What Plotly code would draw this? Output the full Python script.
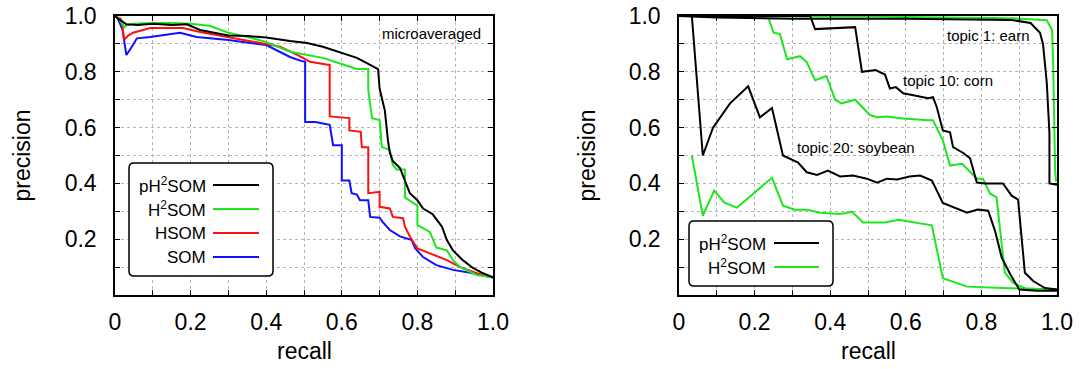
import plotly.graph_objects as go

# ---- microaveraged precision/recall curves (left panel) ----
ph2som_recall = [0.0, 0.008, 0.02, 0.03, 0.06, 0.1, 0.15, 0.19, 0.225, 0.26, 0.30, 0.35, 0.40, 0.463,
                 0.508, 0.55, 0.595, 0.64, 0.675, 0.696, 0.700, 0.706, 0.714, 0.722, 0.727, 0.735,
                 0.754, 0.767, 0.78, 0.80, 0.815, 0.84, 0.865, 0.878, 0.894, 0.92, 0.947, 0.97, 1.0]
ph2som_prec = [1.0, 0.99, 0.98, 0.97, 0.968, 0.972, 0.968, 0.97, 0.95, 0.94, 0.93, 0.928, 0.923, 0.91,
               0.903, 0.89, 0.87, 0.85, 0.825, 0.81, 0.74, 0.71, 0.66, 0.555, 0.51, 0.48,
               0.455, 0.41, 0.365, 0.34, 0.31, 0.29, 0.245, 0.197, 0.16, 0.125, 0.097, 0.08, 0.063]

h2som_recall = [0.0, 0.01, 0.025, 0.03, 0.05, 0.1, 0.15, 0.2, 0.25, 0.30, 0.35, 0.40, 0.463, 0.49,
                0.55, 0.595, 0.64, 0.67, 0.67, 0.68, 0.70, 0.706, 0.727, 0.735, 0.745, 0.767, 0.767,
                0.80, 0.80, 0.833, 0.85, 0.878, 0.894, 0.913, 0.957, 1.0]
h2som_prec = [1.0, 0.99, 0.96, 0.967, 0.972, 0.975, 0.975, 0.972, 0.965, 0.94, 0.925, 0.907, 0.872, 0.865,
              0.85, 0.83, 0.81, 0.81, 0.735, 0.634, 0.627, 0.53, 0.52, 0.466, 0.45, 0.45, 0.35,
              0.32, 0.25, 0.226, 0.17, 0.16, 0.125, 0.10, 0.072, 0.063]

hsom_recall = [0.0, 0.015, 0.02, 0.024, 0.035, 0.048, 0.093, 0.18, 0.225, 0.30, 0.40, 0.437, 0.49,
               0.516, 0.563, 0.568, 0.568, 0.62, 0.62, 0.65, 0.653, 0.67, 0.67, 0.70, 0.70, 0.727,
               0.735, 0.762, 0.767, 0.78, 0.80, 0.833, 0.878, 0.913, 0.957, 1.0]
hsom_prec = [1.0, 0.99, 0.96, 0.915, 0.93, 0.94, 0.957, 0.957, 0.943, 0.925, 0.90, 0.89, 0.855,
             0.836, 0.825, 0.825, 0.64, 0.634, 0.59, 0.585, 0.53, 0.53, 0.365, 0.37, 0.316, 0.31,
             0.28, 0.275, 0.245, 0.21, 0.167, 0.15, 0.125, 0.10, 0.078, 0.063]

som_recall = [0.0, 0.008, 0.02, 0.03, 0.04, 0.058, 0.093, 0.172, 0.216, 0.30, 0.40, 0.463, 0.49,
              0.503, 0.503, 0.53, 0.568, 0.57, 0.577, 0.60, 0.60, 0.62, 0.626, 0.64, 0.648, 0.67,
              0.675, 0.70, 0.708, 0.727, 0.754, 0.785, 0.794, 0.815, 0.85, 0.894, 0.94, 1.0]
som_prec = [1.0, 0.99, 0.95, 0.86, 0.88, 0.92, 0.925, 0.94, 0.925, 0.914, 0.896, 0.853, 0.84,
            0.836, 0.62, 0.62, 0.61, 0.59, 0.537, 0.537, 0.41, 0.41, 0.365, 0.36, 0.34, 0.34,
            0.28, 0.277, 0.262, 0.233, 0.21, 0.197, 0.168, 0.136, 0.107, 0.09, 0.08, 0.063]

# ---- per-topic curves (right panel) ----
t1_ph2_recall = [0.0, 0.1, 0.3, 0.6, 0.88, 0.93, 0.955, 0.963, 0.973, 0.98, 0.98, 1.0]
t1_ph2_prec = [1.0, 0.995, 0.99, 0.99, 0.986, 0.975, 0.94, 0.90, 0.76, 0.58, 0.40, 0.395]
t1_h2_recall = [0.0, 0.5, 0.88, 0.973, 0.987, 0.99, 0.995, 0.997, 1.0]
t1_h2_prec = [1.0, 0.998, 0.992, 0.985, 0.95, 0.82, 0.45, 0.41, 0.41]

t10_ph2_recall = [0.0, 0.347, 0.36, 0.466, 0.484, 0.52, 0.545, 0.558, 0.574, 0.593, 0.62, 0.659,
                  0.672, 0.682, 0.698, 0.717, 0.725, 0.751, 0.77, 0.788, 0.81, 0.857, 0.88, 0.897,
                  0.915, 0.937, 0.968, 1.0]
t10_ph2_prec = [1.0, 1.0, 0.953, 0.96, 0.80, 0.806, 0.79, 0.74, 0.745, 0.723, 0.716, 0.705,
                0.709, 0.673, 0.59, 0.583, 0.53, 0.51, 0.49, 0.403, 0.40, 0.40, 0.356, 0.342,
                0.08, 0.05, 0.025, 0.02]
t10_h2_recall = [0.0, 0.235, 0.25, 0.267, 0.286, 0.32, 0.338, 0.36, 0.39, 0.413, 0.43, 0.466, 0.505,
                 0.524, 0.55, 0.593, 0.659, 0.672, 0.698, 0.717, 0.749, 0.77, 0.788, 0.804, 0.823,
                 0.84, 0.862, 0.884, 0.92, 1.0]
t10_h2_prec = [1.0, 1.0, 0.94, 0.935, 0.845, 0.856, 0.835, 0.77, 0.785, 0.70, 0.687, 0.70, 0.645,
               0.637, 0.64, 0.633, 0.626, 0.626, 0.554, 0.464, 0.47, 0.44, 0.417, 0.417, 0.363,
               0.35, 0.08, 0.043, 0.022, 0.02]

t20_ph2_recall = [0.034, 0.063, 0.09, 0.135, 0.183, 0.214, 0.246, 0.275, 0.315, 0.338, 0.365, 0.394,
                  0.426, 0.46, 0.497, 0.524, 0.55, 0.577, 0.61, 0.638, 0.669, 0.698, 0.762, 0.79,
                  0.818, 0.836, 0.854, 0.876, 0.90, 0.947, 1.0]
t20_ph2_prec = [1.0, 0.50, 0.60, 0.687, 0.748, 0.637, 0.67, 0.50, 0.475, 0.44, 0.43, 0.446,
                0.425, 0.428, 0.417, 0.403, 0.417, 0.414, 0.425, 0.428, 0.41, 0.33, 0.295, 0.306,
                0.302, 0.23, 0.133, 0.075, 0.02, 0.015, 0.015]
t20_h2_recall = [0.034, 0.063, 0.093, 0.12, 0.153, 0.246, 0.275, 0.307, 0.338, 0.373, 0.426, 0.458,
                 0.487, 0.545, 0.58, 0.669, 0.698, 0.762, 0.857, 1.0]
t20_h2_prec = [0.50, 0.284, 0.374, 0.331, 0.313, 0.42, 0.32, 0.306, 0.306, 0.295, 0.29, 0.298,
               0.26, 0.26, 0.27, 0.25, 0.06, 0.03, 0.025, 0.02]

tick_vals_x = [0, 0.2, 0.4, 0.6, 0.8, 1.0]
tick_text_x = ["0", "0.2", "0.4", "0.6", "0.8", "1.0"]
tick_vals_y = [0.2, 0.4, 0.6, 0.8, 1.0]
tick_text_y = ["0.2", "0.4", "0.6", "0.8", "1.0"]

legend_left = ["pH<sup>2</sup>SOM", "H<sup>2</sup>SOM", "HSOM", "SOM"]
legend_right = ["pH<sup>2</sup>SOM", "H<sup>2</sup>SOM"]

BLACK = "#000000"
GREEN = "#1ee61e"
RED = "#ff1010"
BLUE = "#1010ff"
FONT = "Liberation Sans, Arial, sans-serif"

W, H = 1080, 369


def px(x):
    return x / W


def py(y):
    return 1 - y / H


fig = go.Figure()

left_series = [
    (som_recall, som_prec, BLUE),
    (hsom_recall, hsom_prec, RED),
    (h2som_recall, h2som_prec, GREEN),
    (ph2som_recall, ph2som_prec, BLACK),
]
for xs, ys, col in left_series:
    fig.add_trace(go.Scatter(x=xs, y=ys, mode="lines", line=dict(color=col, width=2),
                             xaxis="x", yaxis="y", showlegend=False, hoverinfo="skip"))

right_series = [
    (t20_h2_recall, t20_h2_prec, GREEN),
    (t10_h2_recall, t10_h2_prec, GREEN),
    (t1_h2_recall, t1_h2_prec, GREEN),
    (t20_ph2_recall, t20_ph2_prec, BLACK),
    (t10_ph2_recall, t10_ph2_prec, BLACK),
    (t1_ph2_recall, t1_ph2_prec, BLACK),
]
for xs, ys, col in right_series:
    fig.add_trace(go.Scatter(x=xs, y=ys, mode="lines", line=dict(color=col, width=2),
                             xaxis="x2", yaxis="y2", showlegend=False, hoverinfo="skip"))

# plot area boxes in pixels
LX0, LX1 = 115, 493
RX0, RX1 = 679, 1057
Y0, Y1 = 16, 295

common = dict(
    range=[0, 1], showline=True, linecolor="black", linewidth=1.5, mirror="allticks",
    ticks="inside", ticklen=5, tickwidth=1, tickcolor="black", automargin=False,
    showgrid=True, gridcolor="#b4b4b4", griddash="dot", gridwidth=1,
    zeroline=False, tickfont=dict(family=FONT, size=23, color="black"),
    minor=dict(dtick=0.1, tick0=0, ticks="inside", ticklen=5, tickcolor="black",
               showgrid=True, gridcolor="#b4b4b4", griddash="dot", gridwidth=1),
    fixedrange=True,
)

ydom = [py(Y1), py(Y0)]
fig.update_layout(
    template="none",
    width=W, height=H, margin=dict(l=0, r=0, t=0, b=0, pad=0, autoexpand=False),
    paper_bgcolor="white", plot_bgcolor="white", showlegend=False,
    xaxis=dict(domain=[px(LX0), px(LX1)], anchor="y", tickvals=tick_vals_x,
               ticktext=tick_text_x, ticklabelstandoff=6, **common),
    yaxis=dict(domain=ydom, anchor="x", tickvals=tick_vals_y,
               ticktext=tick_text_y, ticklabelstandoff=12, **common),
    xaxis2=dict(domain=[px(RX0), px(RX1)], anchor="y2", tickvals=tick_vals_x,
                ticktext=tick_text_x, ticklabelstandoff=6, **common),
    yaxis2=dict(domain=ydom, anchor="x2", tickvals=tick_vals_y,
                ticktext=tick_text_y, ticklabelstandoff=12, **common),
)

annotations = []
shapes = []

# axis titles
for cx in ((LX0 + LX1) / 2, (RX0 + RX1) / 2):
    annotations.append(dict(x=px(cx), y=py(351), xref="paper", yref="paper", text="recall",
                            showarrow=False, font=dict(family=FONT, size=23, color="black"),
                            xanchor="center", yanchor="middle"))
for cx in (21, 586):
    annotations.append(dict(x=px(cx), y=py((Y0 + Y1) / 2), xref="paper", yref="paper",
                            text="precision", textangle=-90, showarrow=False,
                            font=dict(family=FONT, size=23, color="black"),
                            xanchor="center", yanchor="middle"))

# curve labels
labels = [
    ("microaveraged", 483, 33),
    ("topic 1: earn", 1032, 36),
    ("topic 10: corn", 995, 80),
    ("topic 20: soybean", 917, 147),
]
for txt, xr, yc in labels:
    annotations.append(dict(x=px(xr), y=py(yc), xref="paper", yref="paper", text=txt,
                            showarrow=False, font=dict(family=FONT, size=15, color="black"),
                            xanchor="right", yanchor="middle"))


def rounded_box(x0, y0, x1, y1, r=5):
    rx, ry = r / W, r / H
    a, b, c, d = px(x0), py(y1), px(x1), py(y0)  # left, bottom, right, top
    path = (f"M {a + rx},{b} L {c - rx},{b} Q {c},{b} {c},{b + ry} "
            f"L {c},{d - ry} Q {c},{d} {c - rx},{d} L {a + rx},{d} "
            f"Q {a},{d} {a},{d - ry} L {a},{b + ry} Q {a},{b} {a + rx},{b} Z")
    return dict(type="path", path=path, xref="paper", yref="paper",
                line=dict(color="black", width=1.5), fillcolor="white", layer="above")


def legend(box, names, colors, ys, text_right, line_x0, line_x1):
    shapes.append(rounded_box(*box))
    for name, col, yy in zip(names, colors, ys):
        annotations.append(dict(x=px(text_right), y=py(yy), xref="paper", yref="paper",
                                text=name, showarrow=False, xanchor="right", yanchor="middle",
                                font=dict(family=FONT, size=17, color="black")))
        shapes.append(dict(type="line", xref="paper", yref="paper", x0=px(line_x0),
                           x1=px(line_x1), y0=py(yy), y1=py(yy),
                           line=dict(color=col, width=2), layer="above"))


legend((129, 163, 273, 276), legend_left, [BLACK, GREEN, RED, BLUE],
       [185, 209, 233, 257], 208, 213, 259)
legend((689, 221, 833, 286), legend_right, [BLACK, GREEN], [243, 267], 768, 774, 819)

fig.update_layout(annotations=annotations, shapes=shapes)
fig.write_html("out.html")
